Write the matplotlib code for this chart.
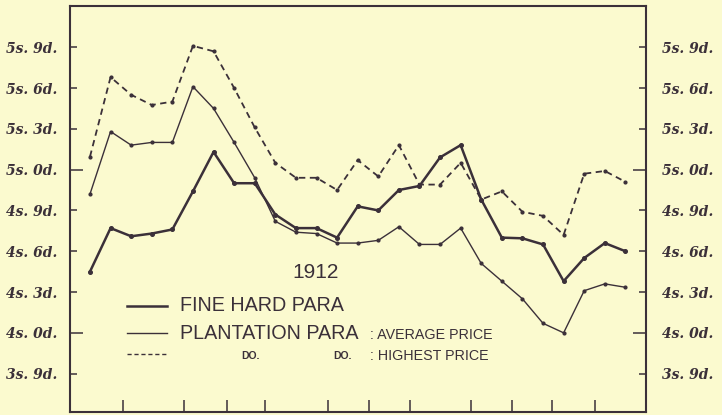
import numpy as np
import matplotlib.pyplot as plt
from matplotlib.lines import Line2D

# prices in pence, one reading per point through 1912
fine_hard = [52.5, 55.7, 55.1, 55.3, 55.6, 58.4, 61.3, 59.0, 59.0, 56.7,
             55.7, 55.7, 55.0, 57.3, 57.0, 58.5, 58.8, 60.9, 61.8, 57.8,
             55.0, 54.95, 54.5, 51.8, 53.5, 54.6, 54.0]
plant_avg = [58.2, 62.8, 61.8, 62.0, 62.0, 66.1, 64.5, 62.0, 59.4, 56.2,
             55.4, 55.3, 54.6, 54.6, 54.8, 55.8, 54.5, 54.5, 55.7, 53.1,
             51.8, 50.5, 48.7, 48.0, 51.1, 51.6, 51.35]
plant_high = [60.95, 66.8, 65.5, 64.75, 65.0, 69.1, 68.7, 66.0, 63.1, 60.5,
              59.4, 59.4, 58.5, 60.7, 59.5, 61.8, 58.9, 58.9, 60.5, 57.8,
              58.4, 56.9, 56.6, 55.2, 59.7, 59.9, 59.1]

ytick_pence = [69, 66, 63, 60, 57, 54, 51, 48, 45]
ytick_labels = ["5s. 9d.", "5s. 6d.", "5s. 3d.", "5s. 0d.", "4s. 9d.",
                "4s. 6d.", "4s. 3d.", "4s. 0d.", "3s. 9d."]
shilling_marks = [60, 48]
month_ticks = [1.6, 4.55, 6.65, 8.5, 11.55, 13.55, 15.55, 18.5, 20.5, 22.45, 24.5]

BG = "#fbfacf"
INK = "#3b3039"
W, H = 722, 415


def px(x, y):
    # pixel position (from top-left) to figure fraction
    return x / W, 1 - y / H


def main():
    fig = plt.figure(figsize=(W / 100, H / 100), dpi=100, facecolor=BG)
    ax = fig.add_axes([70 / W, 3 / H, 576 / W, 406 / H], facecolor=BG)

    x = np.arange(len(fine_hard))
    ax.plot(x, plant_high, color=INK, lw=1.3, dashes=(3.5, 2.5),
            marker="o", ms=2.0)
    ax.plot(x, plant_avg, color=INK, lw=1.0, marker="o", ms=2.0)
    ax.plot(x, fine_hard, color=INK, lw=1.8, marker="o", ms=2.6)

    ax.set_xlim(-0.97, 27.0)
    ax.set_ylim(42.18, 72.03)

    for s in ax.spines.values():
        s.set_linewidth(1.5)
        s.set_color(INK)

    ax.set_xticks(month_ticks)
    ax.tick_params(axis="x", direction="in", length=8.6, width=1.1,
                   color=INK, labelbottom=False)

    ax.set_yticks(ytick_pence)
    ax.set_yticklabels(ytick_labels)
    ax.tick_params(axis="y", direction="in", length=5, width=1.1, color=INK,
                   left=True, right=True, labelleft=True, labelright=True,
                   labelsize=10, labelcolor=INK, pad=9)
    for t, p in zip(ax.yaxis.get_major_ticks(), ytick_pence):
        for lab in (t.label1, t.label2):
            lab.set_fontfamily("DejaVu Serif")
            lab.set_fontstyle("italic")
            lab.set_fontweight("bold")
        t.label2.set_x(1.0 + 4 / 576)
        if p in shilling_marks:
            t.tick1line.set_markersize(9.5)
            t.tick2line.set_markersize(9.5)

    # legend, lettered by hand in the original
    font = dict(family="Liberation Sans", color=INK, va="center")
    fig.text(*px(316, 272), "1912", ha="center", fontsize=15, **font)
    fig.add_artist(Line2D([127 / W, 167 / W], [1 - 305.7 / H] * 2,
                          color=INK, lw=1.8))
    fig.add_artist(Line2D([127 / W, 167 / W], [1 - 332.7 / H] * 2,
                          color=INK, lw=1.0))
    fig.add_artist(Line2D([127 / W, 167 / W], [1 - 354 / H] * 2,
                          color=INK, lw=1.0, dashes=(3, 2)))
    fig.text(*px(180, 305.5), "FINE HARD PARA", ha="left", fontsize=14.2, **font)
    fig.text(*px(180, 333.3), "PLANTATION PARA", ha="left", fontsize=14.2, **font)
    fig.text(*px(370, 335), ": AVERAGE PRICE", ha="left", fontsize=10.3, **font)
    fig.text(*px(241, 356), "DO.", ha="left", fontsize=7.5, weight="bold", **font)
    fig.text(*px(333, 356), "DO.", ha="left", fontsize=7.5, weight="bold", **font)
    fig.text(*px(370, 355.5), ": HIGHEST PRICE", ha="left", fontsize=10.3, **font)

    fig.savefig("out.png", dpi=100, facecolor=BG)


if __name__ == '__main__':
    main()
